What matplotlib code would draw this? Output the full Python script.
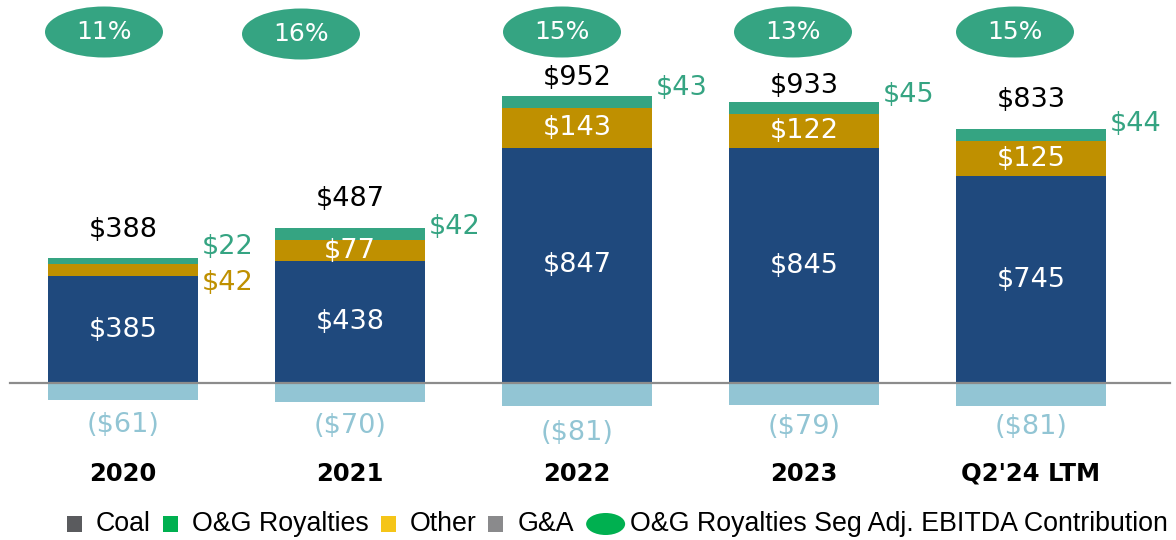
import matplotlib
matplotlib.use("Agg")
import matplotlib.pyplot as plt
from matplotlib.patches import Ellipse, Rectangle

# ---- data ----
categories = ["2020", "2021", "2022", "2023", "Q2'24 LTM"]
coal = [385, 438, 847, 845, 745]
other = [42, 77, 143, 122, 125]
og_royalties = [22, 42, 43, 45, 44]
g_and_a = [-61, -70, -81, -79, -81]
totals = [388, 487, 952, 933, 833]
og_share_pct = [11, 16, 15, 13, 15]
legend_labels = ["Coal", "O&G Royalties", "Other", "G&A",
                 "O&G Royalties Seg Adj. EBITDA Contribution"]

# ---- style ----
C_COAL = "#1F497D"
C_OTHER = "#BF9000"
C_OG = "#35A482"
C_GA = "#92C5D4"
C_AXIS = "#8C8C8C"
legend_colors = ["#5A5B5E", "#00B050", "#F5C518", "#8A8A8C", "#00B050"]
plt.rcParams["font.family"] = ["DejaVu Sans"]

W, H, DPI = 11.76, 5.40, 100
FW, FH = 1176.0, 540.0
fig = plt.figure(figsize=(W, H), dpi=DPI)
ax = fig.add_axes([0, 0, 1, 1])

PX_X = 227.0          # pixels per category
X0_PX = 123.0         # center of first bar in pixels
UNITS_PER_PX = 3.6    # value units per pixel
BASE_PX = 383.0       # baseline from top in pixels

ax.set_xlim(-X0_PX / PX_X, (FW - X0_PX) / PX_X)
ax.set_ylim(-(FH - BASE_PX) * UNITS_PER_PX, BASE_PX * UNITS_PER_PX)
ax.axis("off")

x = list(range(len(categories)))
bw = 150 / PX_X

bottom_og = [c + o for c, o in zip(coal, other)]
tops = [c + o + g for c, o, g in zip(coal, other, og_royalties)]

ax.bar(x, coal, width=bw, color=C_COAL, zorder=2)
ax.bar(x, other, width=bw, bottom=coal, color=C_OTHER, zorder=2)
ax.bar(x, og_royalties, width=bw, bottom=bottom_og, color=C_OG, zorder=2)
ax.bar(x, g_and_a, width=bw, color=C_GA, zorder=2)

ax.axhline(0, xmin=10 / FW, xmax=1170 / FW, color=C_AXIS, lw=1.6, zorder=3)


def px(n):
    return n * 72.0 / DPI  # pixels -> points


FS = 19.5
# segment labels
for i in x:
    ax.text(i, coal[i] / 2, f"${coal[i]}", color="white", ha="center",
            va="center", fontsize=FS, zorder=4)
    if i > 0:
        ax.text(i, coal[i] + other[i] / 2, f"${other[i]}", color="white",
                ha="center", va="center", fontsize=FS, zorder=4)

# totals above bars
total_off_px = [28, 29, 18, 16, 29]
for i in x:
    ax.annotate(f"${totals[i]}", (i, tops[i]), xytext=(0, px(total_off_px[i])),
                textcoords="offset points", ha="center", va="center",
                fontsize=FS, color="black", zorder=4)

# O&G labels to the right
og_off_px = [11, 1, 8, 7, 5]
for i in x:
    ax.annotate(f"${og_royalties[i]}", (i + bw / 2, tops[i]),
                xytext=(px(4), px(og_off_px[i])), textcoords="offset points",
                ha="left", va="center", fontsize=FS, color=C_OG, zorder=4)
# 2020 Other label (segment too thin)
ax.annotate(f"${other[0]}", (0 + bw / 2, coal[0] + other[0] / 2),
            xytext=(px(4), px(-13)), textcoords="offset points",
            ha="left", va="center", fontsize=FS, color=C_OTHER, zorder=4)

# G&A labels
ga_off_px = [25, 24, 28, 22, 22]
for i in x:
    ax.annotate(f"(${-g_and_a[i]})", (i, g_and_a[i]),
                xytext=(0, -px(ga_off_px[i])), textcoords="offset points",
                ha="center", va="center", fontsize=FS, color=C_GA, zorder=4)

# category labels
for i in x:
    ax.text(i, -(474 - BASE_PX) * UNITS_PER_PX, categories[i], ha="center",
            va="center", fontsize=17.5, fontweight="bold", color="black")

# ellipses with percentages
ell_dx_px = [-19, -49, -15, -11, -16]
ell_cy_px = [32, 34, 32, 32, 32]
for i in x:
    cx = i + ell_dx_px[i] / PX_X
    cy = (BASE_PX - ell_cy_px[i]) * UNITS_PER_PX
    e = Ellipse((cx, cy), width=118 / PX_X, height=51 * UNITS_PER_PX,
                facecolor=C_OG, edgecolor="none", zorder=3)
    ax.add_patch(e)
    ax.text(cx, cy, f"{og_share_pct[i]}%", ha="center", va="center",
            fontsize=18, color="white", zorder=4)

# manual legend (pixel layout), font size fitted to span 67..1170 px
renderer = fig.canvas.get_renderer()
LEG_FAMILY = ["Liberation Sans", "DejaVu Sans"]
ly = 524.0
x_start, x_end = 67.0, 1168.0
marker_sizes = [(15, 16, 14)] * 4 + [(39, 22, 5)]
gap_after = 12


def text_widths(size):
    ws = []
    for lab in legend_labels:
        t = fig.text(0, 0, lab, fontsize=size, family=LEG_FAMILY)
        ws.append(t.get_window_extent(renderer).width)
        t.remove()
    return ws


fixed = sum(w + g for (w, h, g) in marker_sizes) + gap_after * (len(legend_labels) - 1)
size = 18.0
for _ in range(4):
    ws = text_widths(size)
    total = fixed + sum(ws)
    size = size * ((x_end - x_start - fixed) / (total - fixed))
size = min(size, 20.0)
ws = text_widths(size)

cur = x_start
for k, (lab, col) in enumerate(zip(legend_labels, legend_colors)):
    w, h, g = marker_sizes[k]
    if k < 4:
        fig.patches.append(Rectangle((cur / FW, 1 - (ly + h / 2) / FH), w / FW, h / FH,
                                     transform=fig.transFigure, facecolor=col,
                                     edgecolor="none"))
    else:
        fig.patches.append(Ellipse(((cur + w / 2) / FW, 1 - ly / FH), w / FW, h / FH,
                                   transform=fig.transFigure, facecolor=col,
                                   edgecolor="none"))
    cur += w + g
    fig.text(cur / FW, 1 - ly / FH, lab, ha="left", va="center",
             fontsize=size, family=LEG_FAMILY, color="black")
    cur += ws[k] + gap_after

fig.savefig("out.png", dpi=DPI)
